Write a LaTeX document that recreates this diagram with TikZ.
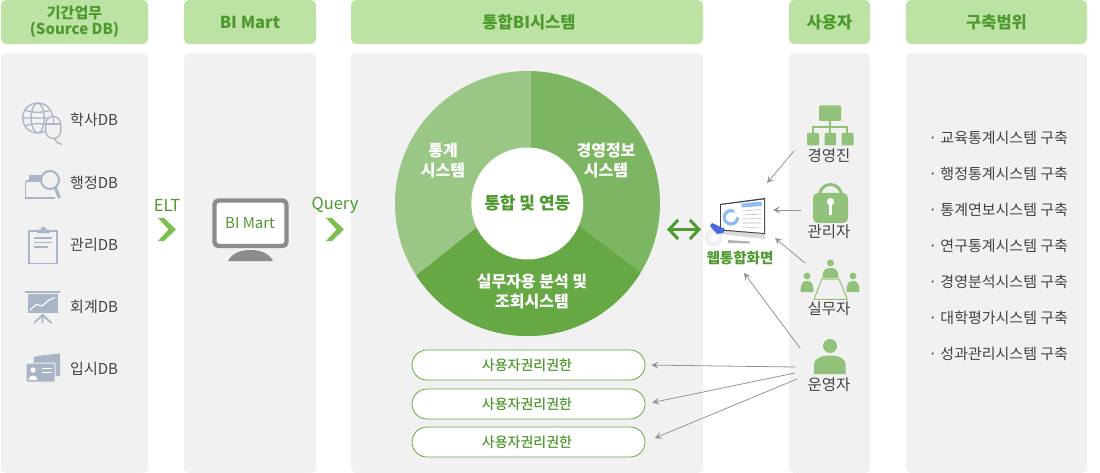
\documentclass[tikz,border=0pt]{standalone}
\usepackage{fontspec}
\setmainfont{Noto Sans CJK KR}
\newfontfamily\mediumfont{Noto Sans CJK KR Medium}
\usetikzlibrary{arrows.meta,positioning}
\definecolor{panelgray}{HTML}{F1F1F1}
\definecolor{headgreen}{HTML}{BCE3A3}
\definecolor{textgreen}{HTML}{4E9A2F}
\definecolor{chevgreen}{HTML}{7CBF50}
\definecolor{icongreen}{HTML}{92C279}
\definecolor{icongray}{HTML}{A9B5C6}
\definecolor{labelgray}{HTML}{444444}
\definecolor{ringleft}{HTML}{9AC785}
\definecolor{ringright}{HTML}{7DB663}
\definecolor{ringbottom}{HTML}{66A843}
\definecolor{screenblue}{HTML}{8DBBF5}
\tikzset{
  panel/.style={fill=panelgray,rounded corners=5pt},
  headbox/.style={fill=headgreen,rounded corners=5pt,text=textgreen,font=\fontsize{16.5}{18}\selectfont\bfseries,align=center,inner sep=0pt},
  dblabel/.style={text=labelgray,font=\fontsize{15}{17}\selectfont,inner sep=0pt},
  userlabel/.style={dblabel,anchor=center,font=\fontsize{15.5}{17}\selectfont},
  flowlabel/.style={text=textgreen,font=\fontsize{16.5}{18}\selectfont,inner sep=0pt},
  chevron/.style={fill=chevgreen},
  ringlabel/.style={text=white,font=\fontsize{16}{20}\selectfont\bfseries,align=center,inner sep=0pt},
  authpill/.style={draw=ringbottom,line width=0.8pt,fill=white,rounded corners=15pt,minimum width=233pt,minimum height=30pt,text=textgreen,font=\fontsize{14}{16}\selectfont\mediumfont,inner sep=0pt},
  scopeitem/.style={anchor=west,text=labelgray,font=\fontsize{15}{17}\selectfont,inner sep=0pt},
  flowarrow/.style={draw=black!42,line width=0.8pt,-{Stealth[length=7pt,width=7pt,inset=3pt]}}
}
\begin{document}
\begin{tikzpicture}[x=1pt,y=-1pt]
  \useasboundingbox (0,0) rectangle (1100,473);
  % panels
  \path[panel] (1,53) rectangle (148,473);
  \path[panel] (184,53) rectangle (316,473);
  \path[panel] (351,53) rectangle (703,473);
  \path[panel] (789,53) rectangle (870,473);
  \path[panel] (906,53) rectangle (1087,473);
  \node[headbox,minimum width=147pt,minimum height=44pt,font=\fontsize{15}{16}\selectfont\bfseries] (headsrc) at (74.5,22) {기간업무\\(Source DB)};
  \node[headbox,minimum width=132pt,minimum height=44pt] (headmart) at (250,22) {BI Mart};
  \node[headbox,minimum width=352pt,minimum height=44pt] (headbi) at (527,22) {\hspace{4pt}통합BI시스템};
  \node[headbox,minimum width=81pt,minimum height=44pt] (headuser) at (829.5,22) {사용자};
  \node[headbox,minimum width=181pt,minimum height=44pt] (headscope) at (996.5,22) {구축범위};
  % source db icons
  \begin{scope}[draw=icongray,line width=1.3pt]
    \draw (37.7,118) circle [radius=15];
    \draw (37.7,118) ellipse [x radius=6.5,y radius=15];
    \draw (25,110) .. controls (31,113) and (44,113) .. (50.5,110) (25,126) .. controls (31,123) and (44,123) .. (50.5,126) (22.7,118) -- (52.7,118);
    \draw[fill=panelgray] (45.7,124) arc [start angle=180,end angle=360,radius=7.5] -- (60.7,131) arc [start angle=0,end angle=180,radius=7.5] -- cycle;
    \draw (53.2,117) -- (53.2,124) (46,124) -- (60.5,124);
    \draw (54,138.5) -- (58,143) -- (62,144.5);
    \draw[line width=1.8pt,fill=panelgray] (25.5,181) -- (25.5,198) -- (55,198);
    \draw[line width=1.8pt] (25.5,181) -- (40,181);
    \fill[icongray] (29,175) rectangle (41,180);
    \draw[line width=2pt] (50,180) circle [radius=9];
    \draw[line width=3.2pt] (55.5,188) -- (59.5,198);
    \draw[line width=1.8pt,fill=panelgray] (29,231) rectangle (57,263.5);
    \fill[icongray] (37,233) -- (37,229.5) -- (40.5,229.5) arc [start angle=180,end angle=360,radius=2.8] -- (49.5,229.5) -- (49.5,233) -- cycle;
    \draw[line width=1.1pt] (34,238) -- (52,238) (34,242.5) -- (52,242.5) (34,247) -- (48,247);
    \draw[line width=1.8pt] (25,292) -- (60,292);
    \fill[icongray] (27.5,294) rectangle (57.5,313);
    \draw[white,line width=1.1pt] (30,310) -- (36,304.5) -- (42,306) -- (49,300) -- (55,297.5);
    \draw[line width=1.8pt] (42.5,315) -- (42.5,323) (34,323) -- (42.5,315) -- (51.5,323);
    \fill[icongray] (33.5,363) -- (33.5,357) -- (41,355.5) -- (60,353.5) -- (60,376) -- (33.5,376) -- cycle;
    \draw[panelgray,line width=1pt,fill=icongray,rounded corners=1pt] (26,363) rectangle (55,382);
    \fill[white] (33,370) circle [radius=2.6];
    \fill[white] (28.5,380) arc [start angle=180,end angle=360,radius=4.5] -- cycle;
    \draw[white,line width=0.9pt] (42,368) -- (52,368) (42,372) -- (52,372);
  \end{scope}
  \node[dblabel,anchor=west] (dbacad) at (70,120) {학사DB};
  \node[dblabel,anchor=west] (dbadmin) at (70,182.5) {행정DB};
  \node[dblabel,anchor=west] (dbmanage) at (70,244.5) {관리DB};
  \node[dblabel,anchor=west] (dbaccount) at (70,306.5) {회계DB};
  \node[dblabel,anchor=west] (dbenter) at (70,368.5) {입시DB};
  % flow marks
  \node[flowlabel] (elt) at (167,205) {ELT};
  \node[flowlabel] (query) at (335,205) {Query};
  \fill[chevron] (158,218) -- (164,218) -- (176,229.5) -- (164,241) -- (158,241) -- (168.5,229.5) -- cycle;
  \fill[chevron] (326,218) -- (332,218) -- (344,229.5) -- (332,241) -- (326,241) -- (336.5,229.5) -- cycle;
  % bi mart monitor
  \draw[draw=black!45,line width=4.4pt,fill=white,rounded corners=4pt] (214.5,200.5) rectangle (286.5,246);
  \fill[black!45] (228,261) .. controls (232,253) and (241,250) .. (250.5,250) .. controls (260,250) and (269,253) .. (273,261) -- cycle;
  \node[text=textgreen,font=\fontsize{15}{17}\selectfont,inner sep=0pt] (martscreen) at (250,223.5) {BI Mart};
  % ring
  \begin{scope}
    \clip (527.5,203.5) circle [radius=132.5];
    \fill[ringleft] (380,60) rectangle (531,350);
    \fill[ringright] (531,60) rectangle (680,350);
    \fill[ringbottom] (528,187) -- (700,318) -- (700,350) -- (360,350) -- (360,320) -- cycle;
  \end{scope}
  \node[circle,fill=white,minimum size=112pt,inner sep=0pt,text=textgreen,font=\fontsize{17}{19}\selectfont\bfseries] (hub) at (527.3,203.5) {통합 및 연동};
  \node[ringlabel] (ringstat) at (443,161) {통계\\시스템};
  \node[ringlabel] (ringmgmt) at (606,161) {경영정보\\시스템};
  \node[ringlabel] (ringwork) at (532,292) {실무자용 분석 및\\조회시스템};
  % auth pills
  \node[authpill] (authone) at (528.5,365) {\hspace{-3pt}사용자권리권한};
  \node[authpill] (authtwo) at (528.5,404) {\hspace{-3pt}사용자권리권한};
  \node[authpill] (auththree) at (528.5,442) {\hspace{-3pt}사용자권리권한};
  % web screen
  \fill[black!15] (720,204) -- (765,198) -- (765,239) -- (720,234) -- cycle;
  \fill[black!75] (720,204) -- (765,198) -- (765,234) -- (720,230.5) -- cycle;
  \fill[white] (721,205) -- (764,199.5) -- (764,233) -- (721,229.5) -- cycle;
  \draw[screenblue,line width=3.2pt] (731,217.3) ++(0:6.7) arc [start angle=0,end angle=300,radius=6.7];
  \fill[screenblue] (741.5,203.5) -- (761.5,201.5) -- (761.5,206) -- (741.5,207.5) -- cycle;
  \draw[black!25,line width=0.6pt] (743,211) -- (761,209.5) (743,215) -- (761,214) (743,219) -- (761,218.5) (743,223) -- (761,223) (743,227) -- (761,228);
  \fill[black!30] (728,240) -- (750,241.5) -- (750,243.5) -- (728,243) -- cycle;
  \shade[inner color=white,outer color=black!8] (713.5,237.5) circle [radius=9];
  \fill[screenblue!60!blue!90!black] (710,226) -- (712,223) -- (725,229) -- (723,233) -- (717,234) -- cycle;
  \node[text=textgreen,font=\fontsize{14.5}{16}\selectfont\bfseries,inner sep=0pt] (webscreen) at (740,258) {웹통합화면};
  \draw[textgreen,line width=3pt,{Straight Barb[length=9pt,width=19pt]}-{Straight Barb[length=9pt,width=19pt]}] (667,229.5) coordinate (dblleft) -- (701,229.5) coordinate (dblright);
  % user icons
  \begin{scope}[fill=icongreen,draw=icongreen]
    \fill[rounded corners=1pt] (819,105.5) rectangle (841,121);
    \draw[line width=1.3pt] (830,121) -- (830,133) (813,133) -- (813,127) -- (847,127) -- (847,133);
    \fill[rounded corners=1pt] (807,133) rectangle (819,145.5);
    \fill[rounded corners=1pt] (824.5,133) rectangle (836,145.5);
    \fill[rounded corners=1pt] (841.5,133) rectangle (853.5,145.5);
    \fill[rounded corners=5pt] (813,193) rectangle (848,223);
    \draw[line width=3pt] (819.5,197) -- (819.5,195.5) arc [start angle=180,end angle=360,radius=11] -- (841.5,197);
    \fill[white] (830.5,201.7) circle [radius=3.7];
    \fill[white] (829,203) rectangle (832,215.5);
    \fill (830.5,263) circle [radius=3.5];
    \fill (822.5,278) .. controls (822.5,270) and (825,268) .. (830.5,268) .. controls (836,268) and (838.5,270) .. (838.5,278) -- cycle;
    \fill (807,276) circle [radius=3.4];
    \fill (800.5,292) .. controls (800.5,283) and (803,281) .. (807,281) .. controls (811,281) and (813.5,283) .. (813.5,292) -- cycle;
    \fill (853,276) circle [radius=3.4];
    \fill (846.5,292) .. controls (846.5,283) and (849,281) .. (853,281) .. controls (857,281) and (859.5,283) .. (859.5,292) -- cycle;
    \draw[line width=1pt] (821.7,279) -- (839,279) -- (847.3,299.3) -- (814,299.3) -- cycle;
    \fill (830,346) circle [radius=7];
    \fill (814,374) -- (814,365) .. controls (814,358) and (822,355.5) .. (830,355.5) .. controls (838,355.5) and (845.7,358) .. (845.7,365) -- (845.7,374) -- cycle;
  \end{scope}
  \node[userlabel] (userexec) at (829,156) {경영진};
  \node[userlabel] (useradmin) at (829,232) {관리자};
  \node[userlabel] (userwork) at (829,309) {실무자};
  \node[userlabel] (userop) at (829,385) {운영자};
  % arrows
  \coordinate (execend) at (794,151);
  \coordinate (webne) at (767,183);
  \coordinate (adminend) at (801,210);
  \coordinate (webe) at (773,210);
  \coordinate (workend) at (805,263);
  \coordinate (webse) at (775,238);
  \coordinate (opup) at (800,348);
  \coordinate (websouth) at (744,273);
  \coordinate (opa) at (795,367);
  \coordinate (opb) at (795,373);
  \coordinate (opc) at (797,379);
  \draw[flowarrow] (execend) -- (webne);
  \draw[flowarrow] (adminend) -- (webe);
  \draw[flowarrow] (workend) -- (webse);
  \draw[flowarrow] (opup) -- (websouth);
  \draw[flowarrow,shorten >=6pt] (opa) -- (authone.east);
  \draw[flowarrow,shorten >=7pt] (opb) -- (authtwo.east);
  \draw[flowarrow,shorten >=10pt] (opc) -- (auththree.east);
  % scope list
  \node[scopeitem] (itemone) at (928.5,138) {· 교육통계시스템 구축};
  \node[scopeitem] (itemtwo) at (928.5,174) {· 행정통계시스템 구축};
  \node[scopeitem] (itemthree) at (928.5,210) {· 통계연보시스템 구축};
  \node[scopeitem] (itemfour) at (928.5,246) {· 연구통계시스템 구축};
  \node[scopeitem] (itemfive) at (928.5,282) {· 경영분석시스템 구축};
  \node[scopeitem] (itemsix) at (928.5,318) {· 대학평가시스템 구축};
  \node[scopeitem] (itemseven) at (928.5,354) {· 성과관리시스템 구축};
\end{tikzpicture}
\end{document}
